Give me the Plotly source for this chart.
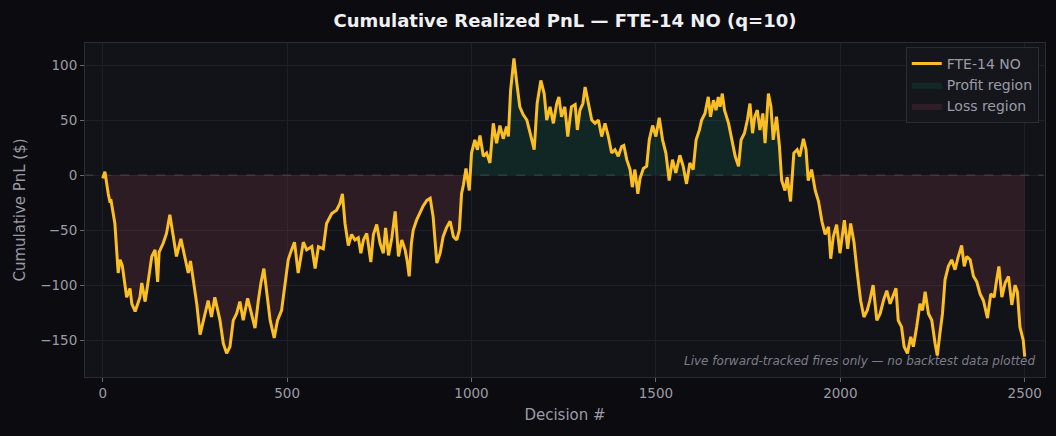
import numpy as np
import plotly.graph_objects as go

decisions = [0, 6, 15, 20, 22, 33, 42, 47, 53, 65, 74, 79, 88, 101, 106, 115, 124, 133, 142, 149,
             153, 164, 173, 182, 191, 200, 212, 222, 232, 238, 246, 255, 264, 273, 286, 295, 304, 318, 327, 336,
             345, 354, 363, 372, 381, 393, 402, 413, 422, 429, 437, 445, 454, 465, 474, 485, 494, 503, 512, 520,
             530, 544, 553, 567, 576, 585, 598, 607, 621, 634, 643, 650, 657, 666, 675, 684, 693, 700, 707, 716,
             727, 734, 743, 752, 761, 767, 775, 784, 793, 802, 811, 820, 826, 831, 837, 842, 851, 860, 869, 879,
             888, 896, 906, 915, 923, 932, 942, 951, 960, 967, 973, 978, 985, 994, 1000, 1009, 1016, 1023, 1032, 1041,
             1050, 1059, 1068, 1077, 1086, 1095, 1100, 1106, 1115, 1123, 1131, 1140, 1150, 1159, 1170, 1178, 1188, 1197, 1204, 1213,
             1222, 1231, 1237, 1244, 1253, 1261, 1271, 1281, 1287, 1294, 1302, 1308, 1317, 1326, 1335, 1344, 1353, 1362, 1371, 1380,
             1389, 1398, 1407, 1413, 1421, 1430, 1436, 1443, 1451, 1457, 1466, 1475, 1482, 1491, 1500, 1509, 1518, 1527, 1536, 1545,
             1554, 1565, 1574, 1583, 1592, 1601, 1609, 1618, 1624, 1633, 1642, 1648, 1656, 1663, 1669, 1674, 1680, 1686, 1697, 1706,
             1715, 1724, 1731, 1740, 1748, 1755, 1762, 1768, 1775, 1782, 1790, 1796, 1805, 1812, 1818, 1827, 1835, 1841, 1850, 1856,
             1865, 1874, 1883, 1890, 1900, 1907, 1913, 1922, 1932, 1941, 1950, 1959, 1968, 1974, 1981, 1990, 1999, 2011, 2020, 2028,
             2037, 2046, 2055, 2064, 2073, 2080, 2089, 2099, 2108, 2117, 2126, 2135, 2144, 2151, 2157, 2166, 2173, 2182, 2191, 2198,
             2207, 2216, 2223, 2230, 2239, 2248, 2257, 2263, 2270, 2277, 2284, 2293, 2302, 2311, 2320, 2329, 2336, 2343, 2352, 2361,
             2370, 2379, 2388, 2399, 2408, 2417, 2424, 2430, 2438, 2447, 2456, 2465, 2474, 2480, 2487, 2496, 2500]

pnl = [-3, 3, -17, -25, -22, -44, -89, -77, -82, -111, -103, -117, -124, -111, -98, -115, -95, -74, -68, -97,
       -70, -62, -53, -36, -55, -74, -58, -74, -89, -78, -98, -117, -145, -131, -114, -129, -111, -132, -153, -162,
       -156, -132, -126, -115, -132, -112, -123, -139, -114, -98, -85, -105, -132, -148, -132, -123, -98, -77, -68, -61,
       -89, -61, -68, -65, -85, -65, -67, -44, -35, -32, -26, -17, -44, -64, -54, -59, -57, -71, -59, -53,
       -79, -54, -45, -62, -71, -48, -73, -57, -33, -74, -59, -68, -79, -92, -62, -50, -41, -35, -28, -23,
       -21, -38, -80, -71, -56, -48, -42, -56, -59, -50, -17, -9, 6, -14, 20, 32, 23, 36, 17, 20,
       11, 47, 29, 45, 33, 44, 35, 77, 106, 83, 62, 55, 50, 38, 23, 65, 86, 74, 50, 62,
       47, 65, 71, 53, 62, 35, 62, 64, 41, 59, 65, 80, 65, 50, 47, 50, 35, 47, 35, 20,
       23, 17, 26, 27, 14, 5, -11, 5, -17, -3, 6, 8, 32, 45, 35, 52, 32, 20, -5, 14,
       2, 18, 8, -8, 11, 5, 32, 41, 50, 56, 71, 53, 68, 59, 71, 62, 74, 59, 47, 32,
       17, 8, 32, 38, 50, 65, 38, 53, 59, 41, 56, 29, 74, 62, 32, 53, 26, -5, -14, -2,
       -24, 20, 23, 17, 33, 23, -5, 5, -14, -24, -42, -54, -47, -76, -56, -45, -71, -41, -67, -44,
       -61, -89, -114, -129, -123, -114, -100, -132, -126, -114, -105, -117, -108, -103, -132, -138, -156, -162, -147, -156,
       -138, -117, -123, -106, -126, -132, -153, -164, -144, -126, -95, -83, -77, -86, -74, -64, -83, -74, -77, -92,
       -97, -108, -114, -130, -108, -111, -95, -83, -111, -98, -92, -118, -100, -106, -138, -150, -165]

x_ticks = [0, 500, 1000, 1500, 2000, 2500]
y_ticks = [-150, -100, -50, 0, 50, 100]

x = np.array(decisions)
y = np.array(pnl, dtype=float)

BG = "#0b0b10"
PLOT_BG = "#111318"
GRID = "#1e2029"
TEXT = "#9b9ba6"
LINE = "#fbbf24"

fig = go.Figure()

# zero reference line
fig.add_trace(go.Scatter(x=[-50, 2550], y=[0, 0], mode="lines",
                         line=dict(color="rgba(90,90,100,0.55)", width=1.2, dash="dash"),
                         showlegend=False, hoverinfo="skip"))

fig.add_trace(go.Scatter(x=x, y=np.maximum(y, 0), mode="lines", fill="tozeroy",
                         fillcolor="rgba(16,120,90,0.20)", line=dict(width=0, color="rgba(0,0,0,0)"),
                         name="Profit region", legendrank=2))
fig.add_trace(go.Scatter(x=x, y=np.minimum(y, 0), mode="lines", fill="tozeroy",
                         fillcolor="rgba(140,60,75,0.24)", line=dict(width=0, color="rgba(0,0,0,0)"),
                         name="Loss region", legendrank=3))
fig.add_trace(go.Scatter(x=x, y=y, mode="lines", line=dict(color=LINE, width=3),
                         name="FTE-14 NO", legendrank=1))

fig.update_layout(
    width=1056, height=436,
    paper_bgcolor=BG, plot_bgcolor=PLOT_BG,
    margin=dict(l=85, r=11, t=43, b=59),
    font=dict(family="DejaVu Sans", color=TEXT, size=13),
    title=dict(text="<b>Cumulative Realized PnL — FTE-14 NO (q=10)</b>", x=0.535, xanchor="center",
               y=0.953, yanchor="middle", font=dict(size=18, color="#f0f0f4", family="DejaVu Sans")),
    showlegend=True,
    legend=dict(x=0.9935, y=0.988, xanchor="right", yanchor="top", bgcolor="#15161c",
                bordercolor="#2a2c36", borderwidth=1, font=dict(size=14, color=TEXT),
                itemwidth=30),
    annotations=[dict(text="<i>Live forward-tracked fires only — no backtest data plotted</i>",
                      xref="paper", yref="paper", x=0.992, y=0.02, xanchor="right", yanchor="bottom",
                      showarrow=False, font=dict(size=12, color="#7d7d88"))],
)

fig.update_xaxes(range=[-48, 2555], tickvals=x_ticks, showgrid=True, gridcolor=GRID, gridwidth=1,
                 zeroline=False, showline=True, linecolor="#2a2c36", mirror=True,
                 ticks="outside", ticklen=4, tickcolor="#6a6a74", tickfont=dict(size=13.5),
                 title=dict(text="Decision #", font=dict(size=15, color=TEXT), standoff=9))
fig.update_yaxes(range=[-183.5, 120], tickvals=y_ticks, showgrid=True, gridcolor=GRID, gridwidth=1,
                 zeroline=False, showline=True, linecolor="#2a2c36", mirror=True,
                 ticks="outside", ticklen=4, tickcolor="#6a6a74", tickfont=dict(size=13.5),
                 title=dict(text="Cumulative PnL ($)", font=dict(size=15, color=TEXT), standoff=10))

fig.write_html("out.html")
